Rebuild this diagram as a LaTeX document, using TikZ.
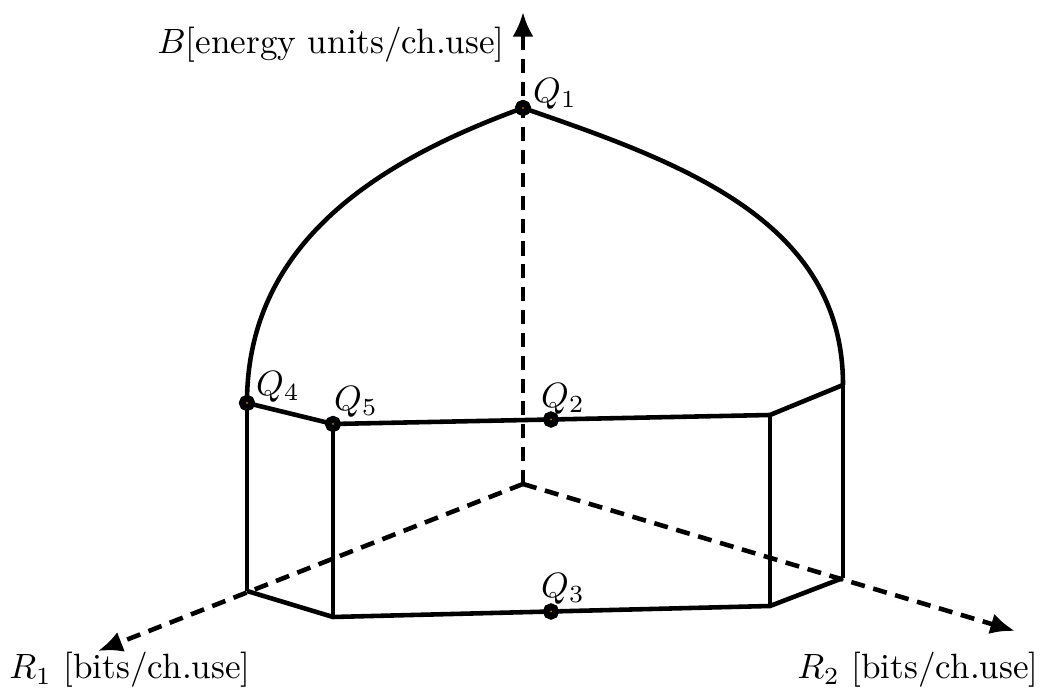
\documentclass[tikz,border=0pt]{standalone}
\usepackage{amsmath,amssymb}
\usepackage{tikz}
\usetikzlibrary{arrows.meta,positioning,calc}

\begin{document}
\begin{tikzpicture}[
  >={Latex[length=7pt,width=6pt]},
  axis/.style={->, line width=1.3pt, dash pattern=on 4pt off 2.5pt},
  edge/.style={line width=1.3pt},
  dot/.style={circle, draw=black, fill=orange, line width=1.9pt,
    inner sep=0pt, minimum size=2.6pt},
  lbl/.style={inner sep=1pt},
]
\useasboundingbox (-5.23,-2.07) rectangle (5.17,4.84);

% axes
\coordinate (o) at (0,0);
\coordinate (btip) at (0,4.72);
\coordinate (r1tip) at (-4.25,-1.67);
\coordinate (r2tip) at (4.92,-1.47);
\draw[axis] (o) -- (btip);
\draw[axis] (o) -- (r1tip);
\draw[axis] (o) -- (r2tip);

\node[lbl] (blab) at (-1.92,4.39) {$B$[energy units/ch.use]};
\node[lbl] (r1lab) at (-3.93,-1.86) {$R_1$ [bits/ch.use]};
\node[lbl] (r2lab) at (3.95,-1.86) {$R_2$ [bits/ch.use]};

% corners
\coordinate (tbr) at (3.20,0.99);
\coordinate (tfr) at (2.47,0.69);
\coordinate (blb) at (-2.76,-1.07);
\coordinate (blf) at (-1.90,-1.33);
\coordinate (brf) at (2.47,-1.22);
\coordinate (brb) at (3.20,-0.94);

% marked points
\node[dot] (q1) at (0,3.76) {};
\node[dot] (q4) at (-2.76,0.81) {};
\node[dot] (q5) at (-1.90,0.60) {};
\node[dot] (q2) at (0.28,0.645) {};
\node[dot] (q3) at (0.28,-1.275) {};

% region boundary
\draw[edge] (q4.center) to[out=90,in=200] (q1.center)
  to[out=-19,in=90] (tbr);
\draw[edge] (q4.center) -- (q5.center) -- (tfr) -- (tbr);
\draw[edge] (blb) -- (blf) -- (brf) -- (brb);
\draw[edge] (q4.center) -- (blb);
\draw[edge] (q5.center) -- (blf);
\draw[edge] (tfr) -- (brf);
\draw[edge] (tbr) -- (brb);

% redraw dots on top
\foreach \q in {q1,q2,q3,q4,q5}
  \node[dot] at (\q) {};

% point labels
\node[lbl] (q1lab) at ([shift={(0.32,0.14)}]q1) {$Q_1$};
\node[lbl] (q4lab) at ([shift={(0.31,0.16)}]q4) {$Q_4$};
\node[lbl] (q5lab) at ([shift={(0.23,0.22)}]q5) {$Q_5$};
\node[lbl] (q2lab) at ([shift={(0.12,0.21)}]q2) {$Q_2$};
\node[lbl] (q3lab) at ([shift={(0.12,0.23)}]q3) {$Q_3$};

\end{tikzpicture}
\end{document}
